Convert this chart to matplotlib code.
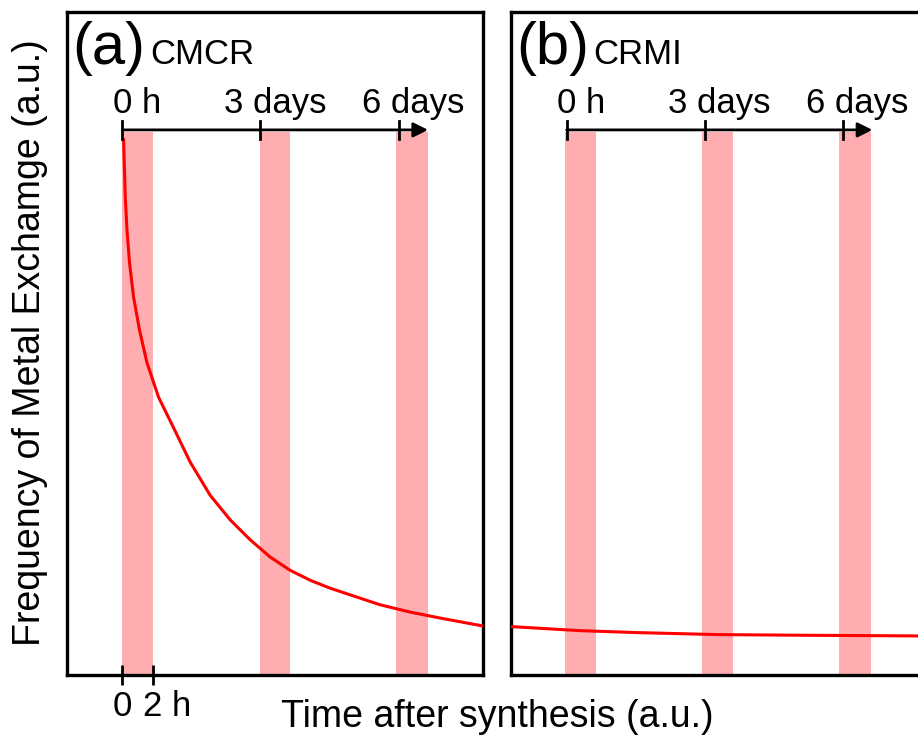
"""
Metal exchange frequency vs. time after synthesis, CMCR vs CRMI.
"""
import matplotlib
matplotlib.use("Agg")
from matplotlib import pyplot
from matplotlib import transforms

# time axis in a.u. (days-ish), 0 h at 0
cmcr_t = [0.028, 0.043, 0.065, 0.102, 0.158, 0.245, 0.375, 0.536, 0.787,
          1.085, 1.475, 1.909, 2.343, 2.777, 3.210, 3.644, 4.078, 4.512,
          4.946, 5.597, 6.247, 6.898, 7.831]
cmcr_f = [8.07, 7.72, 7.21, 6.71, 6.21, 5.70, 5.20, 4.71, 4.19,
          3.77, 3.21, 2.71, 2.34, 2.04, 1.78, 1.58, 1.43, 1.31,
          1.21, 1.06, 0.95, 0.86, 0.74]

crmi_t = [-1.19, 0.28, 1.54, 3.28, 5.16, 7.61, 7.83]
crmi_f = [0.73, 0.67, 0.64, 0.61, 0.60, 0.59, 0.59]

cmcr_bands = [(0.0, 0.67), (2.99, 3.64), (5.94, 6.64)]
crmi_bands = [(-0.04, 0.63), (2.93, 3.62), (5.92, 6.62)]
timeline_ticks = [0, 3, 6]
timeline_labels = ["0 h", "3 days", "6 days"]
bottom_ticks = [0, 0.67]
bottom_labels = ["0", "2 h"]

FONT = "Liberation Sans"
RED = "#ff0000"
PINK = "#ffadb0"
TL_Y = 8.22


def draw_panel(ax, t, f, bands, tag, name, with_bottom_ticks):
    for a, b in bands:
        ax.axvspan(a, b, ymin=0, ymax=TL_Y / 10 - 0.003, color=PINK, lw=0, zorder=1)
    ax.plot(t, f, color=RED, lw=2.2, zorder=3)

    # timeline arrow on top
    ax.annotate("", xy=(6.64, TL_Y), xytext=(timeline_ticks[0], TL_Y),
                arrowprops=dict(arrowstyle="-|>", color="black", lw=2,
                                mutation_scale=22, shrinkA=0, shrinkB=0),
                zorder=4)
    for x, lab in zip(timeline_ticks, timeline_labels):
        ax.plot([x, x], [TL_Y - 0.14, TL_Y + 0.14], color="black", lw=2, zorder=4)
        ax.text(x + 0.32, TL_Y + 0.26, lab, ha="center", va="baseline",
                fontsize=25, family=FONT)

    ax.text(0.012, 0.922, tag, transform=ax.transAxes, fontsize=43,
            family=FONT, va="baseline", ha="left")
    ax.text(0.2 if tag == "(a)" else 0.197, 0.922, name, transform=ax.transAxes,
            fontsize=25, family=FONT, va="baseline", ha="left")

    ax.set_xlim(-1.2, 7.83)
    ax.set_ylim(0, 10)
    ax.set_yticks([])
    for s in ax.spines.values():
        s.set_linewidth(2.4)

    if with_bottom_ticks:
        ax.set_xticks(bottom_ticks)
        ax.set_xticklabels(bottom_labels, fontsize=25, family=FONT)
        ax.tick_params(axis="x", direction="inout", length=14, width=2, pad=4)
        lab = ax.get_xticklabels()[1]
        lab.set_ha("left")
        lab.set_transform(lab.get_transform() + transforms.ScaledTranslation(
            -10 / 100, 0, ax.figure.dpi_scale_trans))
    else:
        ax.set_xticks([])


def main():
    fig = pyplot.figure(figsize=(9.18, 7.41), dpi=100)
    ax_a = fig.add_axes([0.073, 0.089, 0.453, 0.895])
    ax_b = fig.add_axes([0.557, 0.089, 0.453, 0.895])

    draw_panel(ax_a, cmcr_t, cmcr_f, cmcr_bands, "(a)", "CMCR", True)
    draw_panel(ax_b, crmi_t, crmi_f, crmi_bands, "(b)", "CRMI", False)

    fig.text(0.033, 0.537, "Frequency of Metal Exchamge (a.u.)", rotation=90,
             ha="center", va="center", fontsize=27, family=FONT)
    fig.text(0.542, 0.032, "Time after synthesis (a.u.)", ha="center",
             va="center", fontsize=27, family=FONT)

    fig.savefig("out.png", dpi=100)
    pyplot.close(fig)


if __name__ == "__main__":
    main()
